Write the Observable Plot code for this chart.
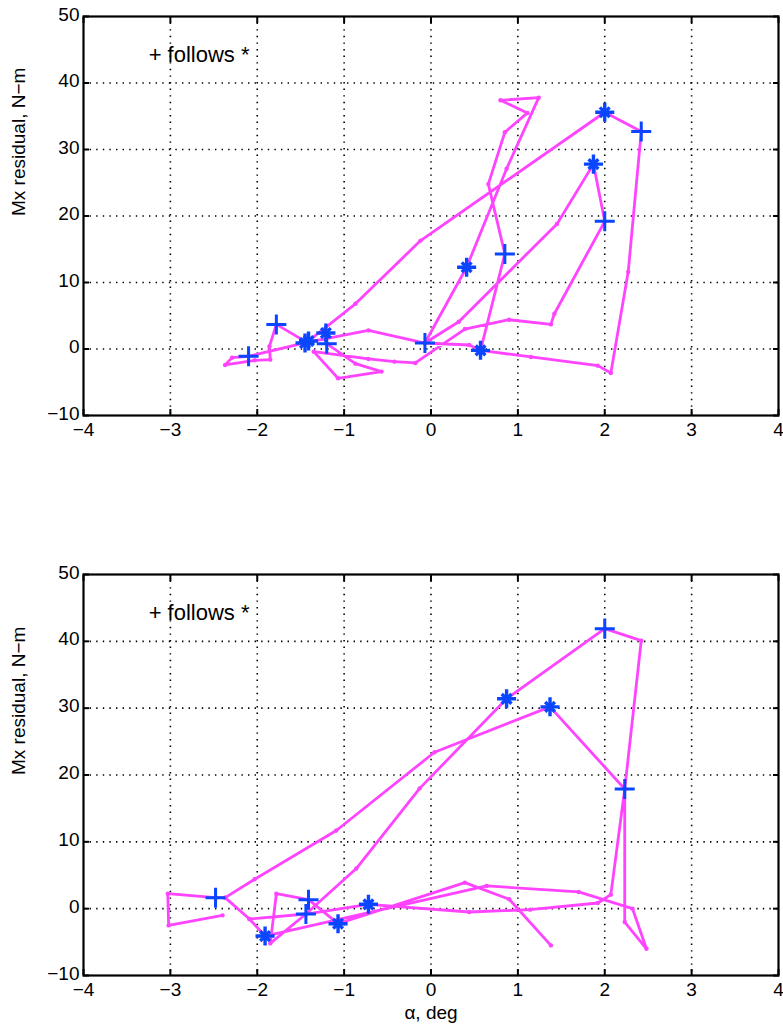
<!DOCTYPE html>
<html><head><meta charset="utf-8">
<script src="https://cdn.jsdelivr.net/npm/d3@7"></script>
<script src="https://cdn.jsdelivr.net/npm/@observablehq/plot@0.6"></script>
<style>
html,body{margin:0;padding:0;background:#fff;}
#chart svg{display:block;}
</style></head><body><div id="chart"></div>
<script>
// ---- labels & ticks ----
const xTicks = [-4, -3, -2, -1, 0, 1, 2, 3, 4];
const yTicks = [-10, 0, 10, 20, 30, 40, 50];
const noteText = "+ follows *";
const noteAlpha = -3.25;
const noteMx = 44.2;
const yLabel = "Mx residual, N\u2212m";
const xLabel = "\u03b1, deg";

// ---- top panel: trajectory (alpha, Mx residual) ----
const topAlpha = [-1.21,-1.20,-0.87,-0.57,-1.07,-1.35,-0.72,-0.42,-0.18,0.39,0.90,1.38,1.42,2.00,1.87,1.45,0.32,-0.07,0.41,0.87,1.24,0.80,1.11,0.85,0.66,0.85,0.57,1.15,1.92,2.07,2.27,2.42,2.00,-0.12,-0.87,-1.43,-1.78,-1.86,-1.85,-2.03,-2.37,-2.29,-2.10,-1.43,-0.72,-0.07,0.44,0.57];
const topMx    = [2.4,0.8,-2.2,-3.4,-4.4,-0.4,-1.5,-1.9,-2.1,3.0,4.4,3.7,5.3,19.2,27.8,18.8,4.1,0.9,12.3,27.1,37.8,37.4,35.5,32.6,24.8,14.3,-0.2,-1.2,-2.5,-3.6,11.6,32.7,35.6,16.3,6.8,1.0,3.7,0.4,-1.6,-1.7,-2.4,-1.3,-1.1,1.0,2.8,0.9,0.6,-0.2];
const topStarAlpha = [-1.45,-1.41,-1.21,0.41,0.57,1.87,2.00];
const topStarMx    = [0.9,1.2,2.4,12.3,-0.2,27.8,35.6];
const topPlusAlpha = [-1.78,-1.20,-2.10,-0.07,0.85,2.00,2.42];
const topPlusMx    = [3.7,0.8,-1.1,0.9,14.3,19.2,32.7];

// ---- bottom panel ----
const botAlpha = [-2.40,-3.02,-3.03,-2.48,-2.37,-2.09,-1.91,0.64,1.70,2.32,2.48,2.23,2.23,1.37,0.04,-1.09,-2.03,-2.37,-2.09,-1.44,-0.72,0.44,1.14,1.92,2.07,2.23,2.42,2.00,0.87,-0.13,-0.86,-1.44,-1.85,-1.78,-1.41,-1.07,0.39,0.90,1.38];
const botMx    = [-1.0,-2.5,2.25,1.65,1.65,-1.55,-4.1,3.4,2.5,0.0,-6.0,-2.0,17.9,30.2,23.4,11.7,4.4,1.65,-1.55,-0.8,0.65,-0.5,-0.15,0.85,2.1,17.9,40.1,41.9,31.4,18.0,6.0,-0.8,-5.2,2.25,1.35,-2.25,3.9,1.4,-5.5];
const botStarAlpha = [0.87,1.37,-1.91,-1.07,-0.72];
const botStarMx    = [31.4,30.2,-4.1,-2.25,0.65];
const botPlusAlpha = [2.00,2.23,-2.48,-1.41,-1.44];
const botPlusMx    = [41.9,17.9,1.65,1.35,-0.8];

const magenta = "#ff44ff";
const blue = "#0a46ff";
const font = "'Liberation Sans', Arial, Helvetica, sans-serif";
const fs = 19;

function zip(a, m) { return a.map((v, i) => ({a: v, m: m[i]})); }

function panel({alpha, mx, starA, starM, plusA, plusM, height, marginTop, marginBottom, showX}) {
  const path = zip(alpha, mx);
  const stars = zip(starA, starM);
  const plus = zip(plusA, plusM);
  const grid = {stroke: "black", strokeOpacity: 1, strokeWidth: 1.6, strokeDasharray: "1.4,5.2"};
  const blank = () => "";
  return Plot.plot({
    width: 783, height, marginLeft: 83, marginRight: 5, marginTop, marginBottom,
    style: {fontFamily: font, fontSize: fs + "px", color: "black", background: "white", overflow: "visible"},
    x: {domain: [-4, 4]},
    y: {domain: [-10, 50]},
    marks: [
      Plot.gridX(xTicks.slice(1, -1), grid),
      Plot.gridY(yTicks.slice(1, -1), grid),
      Plot.axisX(xTicks, {anchor: "bottom", tickSize: 0, tickPadding: 7, label: null, fontSize: fs}),
      Plot.axisX(xTicks, {anchor: "bottom", tickSize: -6, tickFormat: blank, label: null, strokeWidth: 2}),
      Plot.axisX(xTicks, {anchor: "top", tickSize: -6, tickFormat: blank, label: null, strokeWidth: 2}),
      Plot.axisY(yTicks, {anchor: "left", tickSize: 0, tickPadding: 4, label: null, fontSize: fs, dy: -2}),
      Plot.axisY(yTicks, {anchor: "left", tickSize: -6, tickFormat: blank, label: null, strokeWidth: 2}),
      Plot.axisY(yTicks, {anchor: "right", tickSize: -6, tickFormat: blank, label: null, strokeWidth: 2}),
      Plot.line(path, {x: "a", y: "m", stroke: magenta, strokeWidth: 2.8, strokeLinejoin: "round"}),
      Plot.dot(path, {x: "a", y: "m", r: 2.2, fill: magenta}),
      Plot.dot(stars, {x: "a", y: "m", symbol: "plus", r: 6.2, stroke: blue, strokeWidth: 3.4}),
      Plot.dot(stars, {x: "a", y: "m", symbol: "times", r: 4.5, stroke: blue, strokeWidth: 3.4}),
      Plot.dot(plus, {x: "a", y: "m", symbol: "plus", r: 6.5, stroke: blue, strokeWidth: 3}),
      Plot.text([{a: noteAlpha, m: noteMx, t: noteText}], {x: "a", y: "m", text: "t", textAnchor: "start", fontSize: 22}),
      Plot.text([yLabel], {frameAnchor: "left", dx: -65, rotate: -90, fontSize: fs}),
      showX ? Plot.text([xLabel], {frameAnchor: "bottom", dy: 43, fontSize: fs}) : null,
      Plot.frame({stroke: "black", strokeWidth: 2.2})
    ]
  });
}

const chart = document.getElementById("chart");
chart.append(panel({alpha: topAlpha, mx: topMx, starA: topStarAlpha, starM: topStarMx,
  plusA: topPlusAlpha, plusM: topPlusMx, height: 450, marginTop: 16, marginBottom: 35, showX: false}));
chart.append(panel({alpha: botAlpha, mx: botMx, starA: botStarAlpha, starM: botStarMx,
  plusA: botPlusAlpha, plusM: botPlusMx, height: 578, marginTop: 124, marginBottom: 53, showX: true}));
</script></body></html>
